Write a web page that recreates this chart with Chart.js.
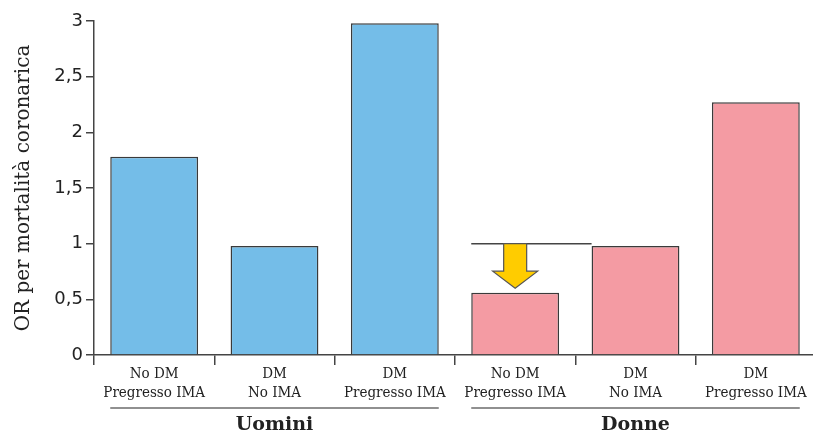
<!DOCTYPE html>
<html lang="it">
<head>
    <meta charset="UTF-8">
    <title>OR per mortalità coronarica</title>
    <style>
        body {
            margin: 0;
            padding: 0;
            background: #fff;
            overflow: hidden;
        }
        .container {
            width: 820px;
            height: 435px;
        }
    </style>
    <script src="https://cdn.jsdelivr.net/npm/chart.js"></script>
</head>
<body>
    <div class="container">
        <canvas id="orChart"></canvas>
    </div>

    <script>
        // Data
        const categories = [
            ['No DM', 'Pregresso IMA'],
            ['DM', 'No IMA'],
            ['DM', 'Pregresso IMA'],
            ['No DM', 'Pregresso IMA'],
            ['DM', 'No IMA'],
            ['DM', 'Pregresso IMA']
        ];
        const orValues = [1.78, 0.98, 2.98, 0.56, 0.98, 2.27];
        const groups = ['Uomini', 'Uomini', 'Uomini', 'Donne', 'Donne', 'Donne'];
        const barColors = ['#74bde8', '#74bde8', '#74bde8', '#f49ba3', '#f49ba3', '#f49ba3'];

        // reference level and arrow over the 4th bar
        const refValue = 1;
        const arrowTarget = 0.6;
        const arrowIndex = 3;

        const serif = '"DejaVu Serif Condensed", "DejaVu Serif", serif';
        const serifWide = '"DejaVu Serif", serif';

        // draws the reference line, arrow and group labels
        const extrasPlugin = {
            id: 'extras',
            afterDatasetsDraw(chart) {
                const ctx = chart.ctx;
                const y = chart.scales.y;
                const bars = chart.getDatasetMeta(0).data;

                // reference line at OR = 1
                const a = bars[arrowIndex];
                const b = bars[arrowIndex + 1];
                const yRef = y.getPixelForValue(refValue);
                ctx.save();
                ctx.strokeStyle = '#444';
                ctx.lineWidth = 1.5;
                ctx.beginPath();
                ctx.moveTo(a.x - a.width / 2, yRef);
                ctx.lineTo(b.x - b.width / 2, yRef);
                ctx.stroke();

                // yellow arrow
                const yTip = y.getPixelForValue(arrowTarget);
                const cx = a.x;
                const shaft = 11.5;
                const head = 22.5;
                const headLen = 17;
                ctx.fillStyle = '#ffcc00';
                ctx.strokeStyle = '#555';
                ctx.lineWidth = 1.2;
                ctx.beginPath();
                ctx.moveTo(cx - shaft, yRef);
                ctx.lineTo(cx + shaft, yRef);
                ctx.lineTo(cx + shaft, yTip - headLen);
                ctx.lineTo(cx + head, yTip - headLen);
                ctx.lineTo(cx, yTip);
                ctx.lineTo(cx - head, yTip - headLen);
                ctx.lineTo(cx - shaft, yTip - headLen);
                ctx.closePath();
                ctx.fill();
                ctx.stroke();

                // group labels under the axis
                const names = [...new Set(groups)];
                names.forEach(name => {
                    const idx = groups.map((g, i) => g === name ? i : -1).filter(i => i >= 0);
                    const first = bars[idx[0]];
                    const last = bars[idx[idx.length - 1]];
                    const x0 = first.x - first.width / 2;
                    const x1 = last.x + last.width / 2;
                    ctx.strokeStyle = '#222';
                    ctx.lineWidth = 1.2;
                    ctx.beginPath();
                    ctx.moveTo(x0, 408);
                    ctx.lineTo(x1, 408);
                    ctx.stroke();
                    ctx.fillStyle = '#222';
                    ctx.font = 'bold 19px ' + serifWide;
                    ctx.textAlign = 'center';
                    ctx.textBaseline = 'middle';
                    ctx.fillText(name, (x0 + x1) / 2, 425);
                });
                ctx.restore();
            }
        };

        const config = {
            type: 'bar',
            data: {
                labels: categories,
                datasets: [{
                    data: orValues,
                    backgroundColor: barColors,
                    borderColor: '#3a3a3a',
                    borderWidth: 1.5,
                    barPercentage: 0.73,
                    categoryPercentage: 1
                }]
            },
            options: {
                responsive: true,
                maintainAspectRatio: false,
                animation: false,
                layout: {
                    padding: { top: 21, left: 0, right: 4, bottom: 0 }
                },
                plugins: {
                    legend: { display: false },
                    tooltip: { enabled: false }
                },
                scales: {
                    x: {
                        afterFit(scale) { scale.height = 80; },
                        grid: {
                            offset: true,
                            drawOnChartArea: false,
                            drawTicks: true,
                            tickLength: 10,
                            color: '#444',
                            lineWidth: 1.5
                        },
                        border: { color: '#444', width: 1.5 },
                        ticks: {
                            color: '#222',
                            padding: 0,
                            maxRotation: 0,
                            font: { family: serif, size: 15, lineHeight: 1.25 }
                        }
                    },
                    y: {
                        min: 0,
                        max: 3,
                        afterFit(scale) { scale.width = 94; },
                        grid: {
                            drawOnChartArea: false,
                            drawTicks: true,
                            tickLength: 8,
                            color: '#444',
                            lineWidth: 1.5
                        },
                        border: { color: '#444', width: 1.5 },
                        ticks: {
                            stepSize: 0.5,
                            padding: 3,
                            color: '#222',
                            font: { family: '"DejaVu Sans", sans-serif', size: 18 },
                            callback: v => String(v).replace('.', ',')
                        },
                        title: {
                            display: true,
                            text: 'OR per mortalità coronarica',
                            color: '#222',
                            padding: { top: 12, bottom: 0 },
                            font: { family: serifWide, size: 20 }
                        }
                    }
                }
            },
            plugins: [extrasPlugin]
        };

        const orChart = new Chart(document.getElementById('orChart'), config);
    </script>
</body>
</html>
